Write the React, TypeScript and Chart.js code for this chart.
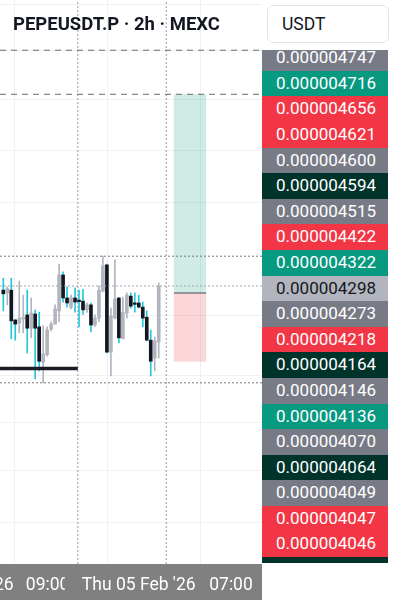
import React, { useEffect, useRef } from "react";
import { Chart, registerables } from "chart.js";

Chart.register(...registerables);

// Prices are in units of 1e-9 USDT (4298 => 0.000004298)
const opens = [4289, 4283, 4289, 4224, 4217, 4226, 4235, 4206, 4237, 4209, 4132, 4148, 4204, 4215, 4244, 4322, 4272, 4252, 4272, 4265, 4265, 4246, 4257, 4213, 4228, 4287, 4344, 4154, 4228, 4272, 4183, 4239, 4276, 4259, 4261, 4252, 4230, 4180, 4141, 4176];
const closes = [4281, 4292, 4222, 4215, 4228, 4230, 4206, 4239, 4206, 4134, 4150, 4202, 4215, 4248, 4322, 4272, 4261, 4272, 4263, 4264, 4246, 4257, 4213, 4228, 4289, 4342, 4154, 4233, 4270, 4185, 4241, 4278, 4254, 4258, 4252, 4228, 4180, 4134, 4178, 4298];
const highs = [4315, 4296, 4315, 4225, 4309, 4278, 4289, 4272, 4246, 4241, 4211, 4209, 4220, 4257, 4346, 4329, 4296, 4278, 4294, 4289, 4291, 4261, 4261, 4235, 4298, 4363, 4346, 4250, 4355, 4272, 4274, 4283, 4283, 4283, 4278, 4263, 4244, 4202, 4187, 4305];
const lows = [4244, 4257, 4183, 4180, 4196, 4196, 4152, 4185, 4095, 4113, 4087, 4145, 4200, 4215, 4220, 4263, 4252, 4248, 4241, 4209, 4236, 4241, 4198, 4210, 4220, 4285, 4152, 4102, 4226, 4174, 4183, 4228, 4250, 4241, 4250, 4209, 4178, 4102, 4113, 4141];

// time axis (time-of-day labels listed before the date labels so dates are drawn on top)
const timeTickPos = [11.12, 57.14, -12.25, 33.98];
const timeLabels = ["09:00", "07:00", "Wed 04 Feb '26", "Thu 05 Feb '26"];
const xGridPos = [14.5, 37.8, 61.4];
const yGridPrices = [4911, 4812, 4704, 4594, 4481, 4233, 4104, 4001, 3895, 3783];

// drawings
const dashedLevels = [4812, 4716];
const verticalMarks = [18.7, 40.9];
const rayLevel = 4118;
const rayEnd = 18.7;
const positionStart = 42.8;
const positionEnd = 50.9;
const targetPrice = 4716;
const entryPrice = 4283;
const stopPrice = 4133;

// right price scale labels
const scaleLabels = ["0.000004747", "0.000004716", "0.000004656", "0.000004621", "0.000004600", "0.000004594", "0.000004515", "0.000004422", "0.000004322", "0.000004298", "0.000004273", "0.000004218", "0.000004164", "0.000004146", "0.000004136", "0.000004070", "0.000004064", "0.000004049", "0.000004047", "0.000004046", "0.000004043"];
const scaleKinds = ["gray", "green", "red", "red", "gray", "dark", "gray", "red", "green", "light", "gray", "red", "dark", "gray", "green", "gray", "dark", "gray", "red", "red", "dark"];

const X_MIN = -0.83;
const X_MAX = 64.92;
const Y_MIN = 3692;
const Y_MAX = 4921.5;

const KIND_BG: Record<string, string> = {
  gray: "#787b86",
  green: "#089981",
  red: "#f23645",
  dark: "#00332a",
  light: "#b2b5be",
};

const UP_BODY = "#b2b5be";
const DOWN_BODY = "#131722";
const DOWN_WICK = "#26c6da";

export default function App() {
  const canvasRef = useRef<HTMLCanvasElement | null>(null);

  useEffect(() => {
    document.body.style.margin = "0";
    const canvas = canvasRef.current;
    if (!canvas) return;
    const idx = opens.map((_, i) => i);
    const isUp = idx.map((i) => closes[i] >= opens[i]);
    const hi = Math.max(...highs);
    const lo = Math.min(...lows);
    const last = closes[closes.length - 1];

    const hLine = (v: number, color: string, dash: number[], width = 1, from = X_MIN, to = X_MAX) => ({
      type: "line" as const,
      data: [{ x: from, y: v }, { x: to, y: v }],
      borderColor: color,
      borderWidth: width,
      borderDash: dash,
      pointRadius: 0,
      order: 0,
      xAxisID: "x",
      yAxisID: "y",
    });
    const vLine = (v: number) => ({
      type: "line" as const,
      data: [{ x: v, y: Y_MIN }, { x: v, y: Y_MAX }],
      borderColor: "#9a9ca4",
      borderWidth: 1,
      borderDash: [2, 2],
      pointRadius: 0,
      order: 3,
      xAxisID: "x",
      yAxisID: "y",
    });

    const bgPlugin = {
      id: "bgAxis",
      beforeDraw(chart: any) {
        const s = chart.scales.x2;
        const ctx = chart.ctx;
        ctx.save();
        ctx.fillStyle = "#808080";
        ctx.fillRect(s.left, s.top, s.right - s.left, s.bottom - s.top);
        ctx.restore();
      },
    };
    const positionPlugin = {
      id: "positionTool",
      beforeDatasetsDraw(chart: any) {
        const xs = chart.scales.x;
        const ys = chart.scales.y;
        const ctx = chart.ctx;
        const l = xs.getPixelForValue(positionStart);
        const r = xs.getPixelForValue(positionEnd);
        const yT = ys.getPixelForValue(targetPrice);
        const yE = ys.getPixelForValue(entryPrice);
        const yS = ys.getPixelForValue(stopPrice);
        ctx.save();
        ctx.fillStyle = "rgba(8,153,129,0.2)";
        ctx.fillRect(l, yT, r - l, yE - yT);
        ctx.fillStyle = "rgba(242,54,69,0.2)";
        ctx.fillRect(l, yE, r - l, yS - yE);
        ctx.strokeStyle = "#787b86";
        ctx.lineWidth = 1.5;
        ctx.beginPath();
        ctx.moveTo(l, yE);
        ctx.lineTo(r, yE);
        ctx.stroke();
        ctx.restore();
      },
    };

    const chart = new Chart(canvas, {
      type: "bar",
      data: {
        datasets: [
          hLine(hi, "#787b86", [2, 2]),
          hLine(lo, "#787b86", [2, 2]),
          hLine(last, "#a3a6af", [2, 2]),
          ...dashedLevels.map((v) => hLine(v, "#6a6a6a", [6, 5])),
          hLine(rayLevel, "#1b1d24", [], 3.5, X_MIN, rayEnd),
          ...verticalMarks.map((v) => vLine(v)),
          {
            type: "bar" as const,
            data: idx.map((i) => ({ x: i, y: [lows[i], highs[i]] })) as any,
            backgroundColor: idx.map((i) => (isUp[i] ? UP_BODY : DOWN_WICK)),
            barThickness: 1,
            grouped: false,
            order: 2,
            xAxisID: "x",
            yAxisID: "y",
          },
          {
            type: "bar" as const,
            data: idx.map((i) => ({ x: i, y: [opens[i], closes[i]] })) as any,
            backgroundColor: idx.map((i) => (isUp[i] ? UP_BODY : DOWN_BODY)),
            barThickness: 3,
            minBarLength: 1.5,
            grouped: false,
            order: 1,
            xAxisID: "x",
            yAxisID: "y",
          },
        ] as any,
      },
      options: {
        animation: false,
        responsive: false,
        devicePixelRatio: 1,
        events: [],
        layout: { padding: { left: 0, right: 0, top: 0, bottom: 6 } },
        plugins: { legend: { display: false }, tooltip: { enabled: false } },
        scales: {
          x: {
            type: "linear",
            min: X_MIN,
            max: X_MAX,
            offset: false,
            position: "bottom",
            grid: { color: "#f0f1f3", drawTicks: false, lineWidth: 1 },
            border: { display: false },
            ticks: { display: false },
            afterBuildTicks: (s: any) => {
              s.ticks = xGridPos.map((v) => ({ value: v }));
            },
            afterFit: (s: any) => {
              s.height = 0;
              s.paddingLeft = 0;
              s.paddingRight = 0;
            },
          },
          x2: {
            type: "linear",
            min: X_MIN,
            max: X_MAX,
            offset: false,
            position: "bottom",
            grid: { display: false, drawTicks: false },
            border: { display: false },
            ticks: {
              color: "#ffffff",
              font: { family: "Roboto", size: 17.5 },
              padding: 11,
              autoSkip: false,
              maxRotation: 0,
              minRotation: 0,
              showLabelBackdrop: true,
              backdropColor: "#808080",
              backdropPadding: { left: 17, right: 4, top: 2, bottom: 2 },
              callback: (_v: any, i: number) => timeLabels[i],
            } as any,
            afterBuildTicks: (s: any) => {
              s.ticks = timeTickPos.map((v) => ({ value: v }));
            },
            afterFit: (s: any) => {
              s.height = 36;
              s.paddingLeft = 0;
              s.paddingRight = 0;
            },
          },
          y: {
            type: "linear",
            min: Y_MIN,
            max: Y_MAX,
            position: "right",
            grid: { color: "#f0f1f3", drawTicks: false },
            border: { display: false },
            ticks: { display: false },
            afterBuildTicks: (s: any) => {
              s.ticks = yGridPrices.map((v) => ({ value: v }));
            },
            afterFit: (s: any) => {
              s.width = 0;
              s.paddingTop = 0;
              s.paddingBottom = 0;
            },
          },
        } as any,
      },
      plugins: [bgPlugin, positionPlugin],
    });
    return () => chart.destroy();
  }, []);

  return (
    <div style={{ position: "relative", width: 396, height: 606, overflow: "hidden", background: "#ffffff", fontFamily: "Roboto, sans-serif" }}>
      <canvas ref={canvasRef} width={262} height={606} style={{ position: "absolute", left: 0, top: 0, width: 262, height: 606 }} />
      <div style={{ position: "absolute", left: 13, top: 14, fontSize: 18.5, fontWeight: 700, color: "#131722", lineHeight: "21px", whiteSpace: "nowrap" }}>
        PEPEUSDT.P · 2h · MEXC
      </div>
      <div style={{ position: "absolute", left: 267, top: 5, width: 120, height: 36, border: "1px solid #e0e3eb", borderRadius: 6, boxSizing: "content-box", fontSize: 17.5, lineHeight: "36px", color: "#131722" }}>
        <span style={{ marginLeft: 14 }}>USDT</span>
      </div>
      <div style={{ position: "absolute", left: 262, top: 50, width: 126, height: 513, overflow: "hidden" }}>
        <div style={{ position: "absolute", left: 0, top: -4.8, width: 126 }}>
          {scaleLabels.map((t, i) => (
            <div
              key={i}
              style={{
                height: 25.6,
                lineHeight: "25.6px",
                background: KIND_BG[scaleKinds[i]],
                color: scaleKinds[i] === "light" ? "#131722" : "#ffffff",
                fontSize: 17,
                paddingLeft: 14,
                whiteSpace: "nowrap",
              }}
            >
              {t}
            </div>
          ))}
        </div>
      </div>
    </div>
  );
}
